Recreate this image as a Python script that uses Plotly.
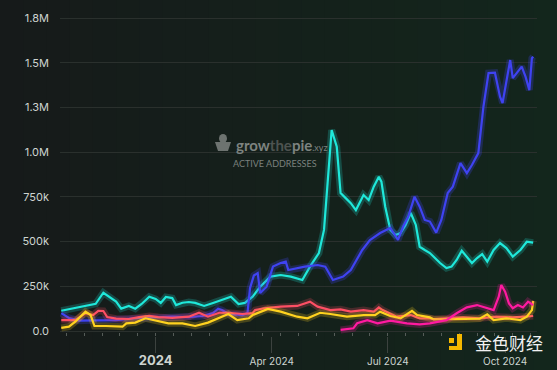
import plotly.graph_objects as go

# ---------------- data (values in thousands of active addresses) ----------------
cyan_dates = ["2023-10-19","2023-11-07","2023-11-11","2023-11-15","2023-11-21","2023-11-25","2023-12-01","2023-12-05",
              "2023-12-11","2023-12-16","2023-12-21","2023-12-27","2024-01-01","2024-01-05","2024-01-09","2024-01-14",
              "2024-01-17","2024-01-22","2024-01-27","2024-02-01","2024-02-08","2024-02-15","2024-02-22","2024-02-29",
              "2024-03-06","2024-03-11","2024-03-17","2024-03-19","2024-03-23","2024-03-31","2024-04-08","2024-04-16",
              "2024-04-25","2024-05-01","2024-05-08","2024-05-12","2024-05-15","2024-05-18","2024-05-22","2024-05-25",
              "2024-05-29","2024-06-02","2024-06-06","2024-06-08","2024-06-12","2024-06-16","2024-06-20","2024-06-24",
              "2024-06-26","2024-06-29","2024-07-03","2024-07-07","2024-07-11","2024-07-15","2024-07-19","2024-07-23",
              "2024-07-26","2024-07-30","2024-08-03","2024-08-11","2024-08-16","2024-08-20","2024-08-24","2024-08-28",
              "2024-09-01","2024-09-05","2024-09-09","2024-09-13","2024-09-17","2024-09-22","2024-09-27","2024-10-02",
              "2024-10-07","2024-10-13","2024-10-18","2024-10-23"]
cyan_vals = [113,140,145,152,214,192,164,125,
             140,125,151,192,179,157,190,184,
             145,158,162,157,140,157,173,192,
             151,157,192,212,248,304,313,304,
             285,360,436,565,863,1124,1030,771,
             743,715,676,704,760,732,807,863,
             835,695,565,537,548,593,660,593,
             471,453,436,380,352,360,397,449,
             416,380,408,430,388,453,492,464,
             416,453,499,494]

blue_dates = ["2023-10-19","2023-10-25","2023-11-02","2023-11-15","2023-12-01","2023-12-19","2024-01-03","2024-01-14",
              "2024-01-27","2024-02-07","2024-02-15","2024-02-19","2024-02-22","2024-02-27","2024-03-09","2024-03-13",
              "2024-03-15","2024-03-18","2024-03-21","2024-03-23","2024-03-28","2024-04-02","2024-04-08","2024-04-12",
              "2024-04-14","2024-04-21","2024-04-27","2024-05-07","2024-05-13","2024-05-19","2024-05-27","2024-06-02",
              "2024-06-11","2024-06-17","2024-06-25","2024-07-03","2024-07-09","2024-07-13","2024-07-17","2024-07-22",
              "2024-07-26","2024-07-30","2024-08-03","2024-08-08","2024-08-12","2024-08-17","2024-08-21","2024-08-27",
              "2024-09-01","2024-09-05","2024-09-10","2024-09-14","2024-09-18","2024-09-23","2024-09-27","2024-09-29",
              "2024-10-02","2024-10-05","2024-10-07","2024-10-11","2024-10-14","2024-10-17","2024-10-20","2024-10-22",
              "2024-10-23"]
blue_vals = [100,73,58,61,61,73,78,80,
             78,84,100,125,117,95,89,100,
             240,310,324,212,248,360,380,388,
             341,352,360,369,360,285,304,341,
             453,509,548,576,509,583,639,751,
             695,621,612,550,621,771,807,939,
             883,928,995,1254,1442,1444,1310,1275,
             1394,1515,1414,1450,1478,1422,1347,1525,
             1534]

red_dates = ["2023-10-19","2023-10-30","2023-11-07","2023-11-13","2023-11-17","2023-11-21","2023-11-24","2023-12-01",
             "2023-12-11","2023-12-19","2023-12-27","2024-01-03","2024-01-14","2024-01-27","2024-02-04","2024-02-11",
             "2024-02-20","2024-02-27","2024-03-09","2024-03-17","2024-03-19","2024-03-26","2024-04-08","2024-04-21",
             "2024-05-01","2024-05-07","2024-05-17","2024-05-25","2024-06-02","2024-06-12","2024-06-20","2024-06-24",
             "2024-06-27","2024-07-08","2024-07-19","2024-07-26","2024-08-03","2024-08-06","2024-08-29","2024-09-11",
             "2024-09-24","2024-10-07","2024-10-23"]
red_vals = [61,61,100,89,113,112,78,69,
            67,78,84,78,73,80,102,80,
            102,102,95,100,117,127,136,140,
            164,136,117,121,108,117,108,132,
            117,80,89,71,71,67,76,71,
            80,76,84]

yellow_dates = ["2023-10-19","2023-10-25","2023-10-30","2023-11-07","2023-11-11","2023-11-14","2023-11-23","2023-12-06",
                "2023-12-09","2023-12-16","2023-12-24","2024-01-01","2024-01-11","2024-01-22","2024-02-01","2024-02-11",
                "2024-02-20","2024-02-27","2024-03-05","2024-03-14","2024-03-17","2024-03-29","2024-04-08","2024-04-21",
                "2024-04-29","2024-05-09","2024-05-17","2024-05-30","2024-06-12","2024-06-21","2024-06-25","2024-07-03",
                "2024-07-11","2024-07-20","2024-07-24","2024-08-03","2024-08-06","2024-08-29","2024-09-11","2024-09-17",
                "2024-09-22","2024-10-02","2024-10-13","2024-10-18","2024-10-22","2024-10-23"]
yellow_vals = [17,24,52,108,89,28,28,24,
               43,47,71,58,43,43,28,47,
               76,95,61,71,89,123,108,80,
               71,102,95,80,89,89,108,84,
               71,113,89,76,65,65,69,93,
               61,71,61,80,117,168]

magenta_dates = ["2024-05-25","2024-06-04","2024-06-07","2024-06-15","2024-06-23","2024-07-03","2024-07-16","2024-07-26",
                 "2024-08-03","2024-08-16","2024-08-24","2024-09-01","2024-09-09","2024-09-17","2024-09-22","2024-09-26",
                 "2024-09-28","2024-10-01","2024-10-04","2024-10-07","2024-10-11","2024-10-15","2024-10-19","2024-10-23"]
magenta_vals = [6,15,43,61,43,58,43,37,
                43,61,99,132,145,127,117,192,
                257,220,154,127,145,132,164,145]

series = [
    ("Arbitrum", cyan_dates, cyan_vals, "#1fe8da", "rgba(31,232,218,0.22)"),
    ("Base", blue_dates, blue_vals, "#3f43f2", "rgba(63,67,242,0.25)"),
    ("Optimism", red_dates, red_vals, "#fe4f64", "rgba(254,79,100,0.22)"),
    ("Linea", yellow_dates, yellow_vals, "#ffd21f", "rgba(255,210,31,0.22)"),
    ("Other", magenta_dates, magenta_vals, "#ff1aa0", "rgba(255,26,160,0.22)"),
]

tick_dates = ["2024-01-01", "2024-04-01", "2024-07-01", "2024-10-01"]
tick_labels = ["<span style='font-size:13px'><b>2024</b></span>", "Apr 2024", "Jul 2024", "Oct 2024"]

# ---------------- figure ----------------
fig = go.Figure()
for name, d, v, col, glow in series:
    yv = [x * 1000 for x in v]
    fig.add_trace(go.Scatter(x=d, y=yv, mode="lines", line=dict(color=glow, width=7),
                             hoverinfo="skip", showlegend=False))
    fig.add_trace(go.Scatter(x=d, y=yv, mode="lines", name=name, line=dict(color=col, width=2.2),
                             showlegend=False))

# background horizontal gradient (dark -> greenish)
W, L, R = 477.0, 60.0, 20.0
n = 24
c0 = (22, 26, 26)
c1 = (19, 38, 28)
for i in range(n):
    t = i / (n - 1)
    c = tuple(int(round(c0[k] + (c1[k] - c0[k]) * t)) for k in range(3))
    x0 = (-L + (W + L + R) * i / n) / W
    x1 = (-L + (W + L + R) * (i + 1) / n) / W + 0.002
    fig.add_shape(type="rect", xref="paper", yref="paper", x0=x0, x1=x1, y0=-0.2, y1=1.1,
                  fillcolor="rgb(%d,%d,%d)" % c, line=dict(width=0), layer="below")

def px(x):
    return (x - 60) / 477.0
def py(y):
    return (336 - y) / 328.0

# Jinse logo blocks
for (ax0, ay0, ax1, ay1) in [(449, 338, 454, 343), (457, 334, 462, 350), (449, 346, 462, 350)]:
    fig.add_shape(type="rect", xref="paper", yref="paper", x0=px(ax0), x1=px(ax1), y0=py(ay1), y1=py(ay0),
                  fillcolor="#f5b800", line=dict(width=0), layer="above")

# growthepie pie logo (simple gray shapes)
fig.add_shape(type="path", xref="paper", yref="paper",
              path="M %f %f L %f %f L %f %f L %f %f Z" % (px(215), py(142), px(231), py(142), px(228), py(151), px(218), py(151)),
              fillcolor="#6d7370", line=dict(width=0), layer="above")
fig.add_shape(type="circle", xref="paper", yref="paper", x0=px(219), x1=px(227), y0=py(143), y1=py(134),
              fillcolor="#6d7370", line=dict(width=0), layer="above")

fig.add_annotation(xref="paper", yref="paper", x=px(234), y=py(145), xanchor="left", showarrow=False,
                   text="<b>grow</b><span style='color:#4d5350'><b>the</b></span><b>pie</b><span style='font-size:9px'>.xyz</span>",
                   font=dict(family="Lato, sans-serif", size=15, color="#7d8380"))
fig.add_annotation(xref="paper", yref="paper", x=px(275), y=py(163), xanchor="center", showarrow=False,
                   text="ACTIVE ADDRESSES", font=dict(family="Lato, sans-serif", size=9, color="#7a807d"))
fig.add_annotation(xref="paper", yref="paper", x=px(509), y=py(342), xanchor="center", yanchor="middle",
                   showarrow=False,
                   text="金色财经", font=dict(family="Noto Sans CJK SC", size=17, color="#f2f2f2"))

fig.update_layout(
    width=557, height=370,
    margin=dict(l=60, r=20, t=8, b=34, autoexpand=False),
    paper_bgcolor="#161c1a",
    plot_bgcolor="rgba(0,0,0,0)",
    font=dict(family="Inter, Lato, sans-serif", color="#cdd4d0"),
    hovermode=False,
    xaxis=dict(
        type="date", automargin=False,
        range=["2023-10-18", "2024-10-26"],
        showgrid=False, zeroline=False, showline=False,
        tickmode="array", tickvals=tick_dates, ticktext=tick_labels,
        ticks="outside", ticklen=16, tickwidth=1, tickcolor="#3c423f",
        tickfont=dict(size=10, color="#cdd4d0"),
        minor=dict(ticks="inside", ticklen=3, tickwidth=1, tickcolor="#555c58",
                   dtick=14 * 86400000, tick0="2024-01-01", showgrid=False),
    ),
    yaxis=dict(
        automargin=False,
        range=[-27955, 1806000],
        tick0=0, dtick=250000, tickformat=".2s",
        showgrid=True, gridcolor="#2a302d", gridwidth=1,
        zeroline=False, showline=False,
        ticks="", ticklabelstandoff=10,
        tickfont=dict(size=11, color="#cdd4d0"),
    ),
)

fig.write_html("out.html",
               config={"displayModeBar": False, "staticPlot": True},
               post_script="document.body.style.margin='0';document.body.style.padding='0';"
                           "document.body.style.background='#161c1a';document.body.style.overflow='hidden';")
